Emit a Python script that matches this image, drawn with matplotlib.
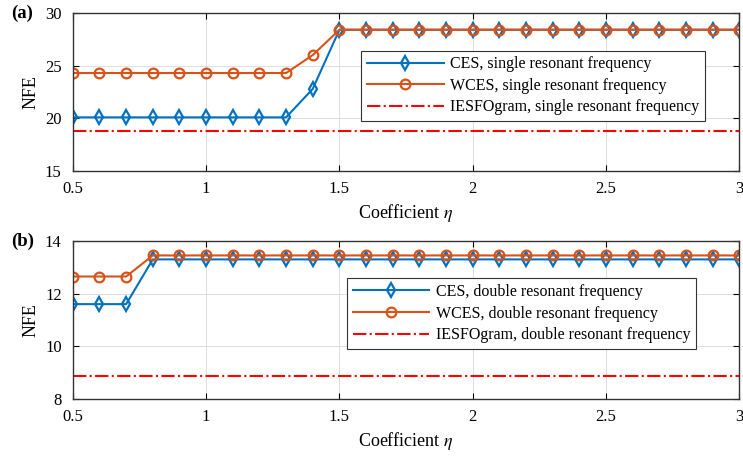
import numpy as np
import matplotlib.pyplot as plt

plt.rcParams['font.family'] = ['Liberation Serif', 'DejaVu Serif']
plt.rcParams['mathtext.fontset'] = 'stix'

eta = [0.5, 0.6, 0.7, 0.8, 0.9, 1.0, 1.1, 1.2, 1.3, 1.4, 1.5, 1.6, 1.7, 1.8, 1.9, 2.0,
       2.1, 2.2, 2.3, 2.4, 2.5, 2.6, 2.7, 2.8, 2.9, 3.0]

ces_single = [20.1] * 9 + [22.8] + [28.4] * 16
wces_single = [24.3] * 9 + [26.0] + [28.4] * 16
iesfo_single = 18.8

ces_double = [11.6] * 3 + [13.3] * 23
wces_double = [12.65] * 3 + [13.45] * 23
iesfo_double = 8.88

blue = '#0072BD'
orange = '#D95319'

fig = plt.figure(figsize=(7.43, 4.59), dpi=100)
ax1 = fig.add_axes([0.098, 0.627, 0.897, 0.345])
ax2 = fig.add_axes([0.098, 0.131, 0.897, 0.344])


def panel(ax, ces, wces, iesfo, kind, ylim, yticks, tag, legx):
    ax.plot(eta, ces, '-d', color=blue, lw=1.5, ms=7, mfc='none', mew=1.6,
            label=f'CES, {kind} resonant frequency')
    ax.plot(eta, wces, '-o', color=orange, lw=1.5, ms=7, mfc='none', mew=1.6,
            label=f'WCES, {kind} resonant frequency')
    ax.plot([eta[0], eta[-1]], [iesfo, iesfo], '-.', color='red', lw=1.5,
            label=f'IESFOgram, {kind} resonant frequency')
    ax.set_xlim(0.5, 3)
    ax.set_ylim(*ylim)
    ax.set_xticks([0.5, 1, 1.5, 2, 2.5, 3])
    ax.set_xticklabels(['0.5', '1', '1.5', '2', '2.5', '3'])
    ax.set_yticks(yticks)
    ax.tick_params(direction='in', top=True, right=True, labelsize=12, length=4)
    ax.tick_params(axis='x', pad=7)
    ax.tick_params(axis='y', pad=8)
    ax.grid(True, color='#dddddd', lw=0.7)
    for s in ax.spines.values():
        s.set_color('#333333')
        s.set_linewidth(1.0)
    ax.set_ylabel('NFE', fontsize=13, labelpad=4)
    ax.set_xlabel(r'Coefficient $\eta$', fontsize=13, labelpad=4)
    ax.text(-0.092, 1.0, tag, transform=ax.transAxes, fontsize=13.5,
            fontweight='bold', va='center', ha='left')
    leg = ax.legend(loc='center right', bbox_to_anchor=(legx, 0.54), fontsize=11.5,
                    fancybox=False, framealpha=1, edgecolor='#333333',
                    handlelength=4.8, borderpad=0.35, labelspacing=0.35,
                    handletextpad=0.4)
    leg.get_frame().set_linewidth(0.8)


panel(ax1, ces_single, wces_single, iesfo_single, 'single', (15, 30),
      [15, 20, 25, 30], '(a)', 0.96)
panel(ax2, ces_double, wces_double, iesfo_double, 'double', (8, 14),
      [8, 10, 12, 14], '(b)', 0.947)

fig.savefig('out.png', dpi=100)
